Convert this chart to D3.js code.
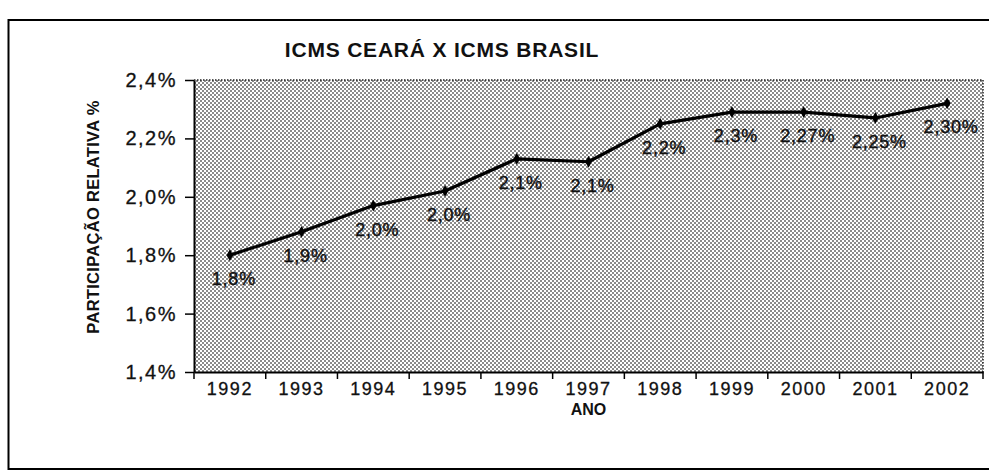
<!DOCTYPE html>
<html>
<head>
<meta charset="utf-8">
<script src="https://cdn.jsdelivr.net/npm/d3@7"></script>
<style>
  html, body { margin: 0; padding: 0; background: #fff; overflow: hidden; }
  svg { display: block; overflow: hidden; }
  text { font-family: "Liberation Sans", Arial, sans-serif; fill: #111; }
</style>
</head>
<body>
<svg id="chart" width="989" height="472"></svg>
<script>
const title = "ICMS CEARÁ X ICMS BRASIL";
const yTitle = "PARTICIPAÇÃO RELATIVA %";
const xTitle = "ANO";
const years = ["1992","1993","1994","1995","1996","1997","1998","1999","2000","2001","2002"];
const values = [1.80, 1.88, 1.97, 2.02, 2.13, 2.12, 2.25, 2.29, 2.29, 2.27, 2.32];
const valueLabels = ["1,8%","1,9%","2,0%","2,0%","2,1%","2,1%","2,2%","2,3%","2,27%","2,25%","2,30%"];
const yTicks = [1.4, 1.6, 1.8, 2.0, 2.2, 2.4];

const svg = d3.select("#chart");
const plot = { left: 194, right: 983, top: 80, bottom: 372 };

// outer frame (left, top, bottom edges; right edge lies outside the picture)
svg.append("path")
  .attr("d", "M989,20H8.5V469H989")
  .attr("fill", "none").attr("stroke", "#000").attr("stroke-width", 2);

// halftone pattern
const defs = svg.append("defs");
const pat = defs.append("pattern")
  .attr("id", "dots").attr("patternUnits", "userSpaceOnUse")
  .attr("width", 4).attr("height", 4);
pat.append("rect").attr("width", 4).attr("height", 4).attr("fill", "#fff");
pat.append("rect").attr("x", 0).attr("y", 0).attr("width", 2).attr("height", 2).attr("fill", "#8a8a8a");
pat.append("rect").attr("x", 2).attr("y", 2).attr("width", 2).attr("height", 2).attr("fill", "#8a8a8a");

const x = d3.scaleBand().domain(years).range([plot.left, plot.right]).padding(0);
const y = d3.scaleLinear().domain([1.4, 2.4]).range([plot.bottom, plot.top]);

// plot area
svg.append("rect")
  .attr("x", plot.left).attr("y", plot.top)
  .attr("width", plot.right - plot.left).attr("height", plot.bottom - plot.top)
  .attr("fill", "url(#dots)");
// dotted border top & right
svg.append("path")
  .attr("d", `M${plot.left},${plot.top}H${plot.right}V${plot.bottom}`)
  .attr("fill", "none").attr("stroke", "#222").attr("stroke-width", 1.5)
  .attr("stroke-dasharray", "1.5,1.5");

// title
svg.append("text")
  .attr("x", 442).attr("y", 57)
  .attr("text-anchor", "middle")
  .style("font-size", "21px").style("font-weight", "bold").style("letter-spacing", "0.8px")
  .text(title);

// y axis
const yAxis = d3.axisLeft(y).tickValues(yTicks)
  .tickFormat(d => d.toFixed(1).replace(".", ",") + "%")
  .tickSize(9).tickSizeOuter(0);
const gy = svg.append("g").attr("transform", `translate(${plot.left},0)`).call(yAxis);
gy.select(".domain").attr("stroke", "#000").attr("stroke-width", 2);
gy.selectAll(".tick line").attr("stroke", "#000").attr("stroke-width", 1.5);
gy.selectAll(".tick text")
  .attr("x", -17)
  .attr("stroke", "#111").attr("stroke-width", 0.3)
  .style("font-size", "20px").style("letter-spacing", "1.5px")
  .style("font-family", "'Liberation Sans', Arial, sans-serif").attr("fill", "#111");

// x axis baseline + ticks at band boundaries
const xAxis = d3.axisBottom(x).tickSize(0).tickSizeOuter(0);
const gx = svg.append("g").attr("transform", `translate(0,${plot.bottom})`).call(xAxis);
gx.select(".domain").attr("stroke", "#000").attr("stroke-width", 2);
gx.selectAll(".tick text")
  .attr("y", 10)
  .attr("stroke", "#111").attr("stroke-width", 0.3)
  .style("font-size", "18px").style("letter-spacing", "1.5px")
  .style("font-family", "'Liberation Sans', Arial, sans-serif").attr("fill", "#111");
const bounds = years.map(d => x(d)).concat([x(years[years.length - 1]) + x.bandwidth()]);
svg.append("g").selectAll("line").data(bounds).join("line")
  .attr("x1", d => d).attr("x2", d => d)
  .attr("y1", plot.bottom).attr("y2", plot.bottom + 7)
  .attr("stroke", "#000").attr("stroke-width", 1.5);

// axis titles
svg.append("text")
  .attr("transform", `translate(99,217) rotate(-90)`)
  .attr("text-anchor", "middle")
  .style("font-size", "16.5px").style("font-weight", "bold").style("letter-spacing", "0.3px")
  .text(yTitle);
svg.append("text")
  .attr("x", (plot.left + plot.right) / 2).attr("y", 415)
  .attr("text-anchor", "middle")
  .style("font-size", "16px").style("font-weight", "bold")
  .text(xTitle);

// line
const data = years.map((yr, i) => ({ yr, v: values[i], lab: valueLabels[i] }));
const cx = d => x(d.yr) + x.bandwidth() / 2;
svg.append("path")
  .datum(data)
  .attr("d", d3.line().x(cx).y(d => y(d.v)))
  .attr("fill", "none").attr("stroke", "#000").attr("stroke-width", 3.2)
  .attr("stroke-linejoin", "round");

// markers
svg.append("g").selectAll("path").data(data).join("path")
  .attr("transform", d => `translate(${cx(d)},${y(d.v)})`)
  .attr("d", d3.symbol(d3.symbolDiamond, 40))
  .attr("fill", "#000");

// value labels
svg.append("g").selectAll("text").data(data).join("text")
  .attr("x", d => cx(d) + 4).attr("y", d => y(d.v) + 30)
  .attr("text-anchor", "middle")
  .attr("stroke", "#111").attr("stroke-width", 0.4)
  .style("font-size", "18px").style("letter-spacing", "0.8px")
  .text(d => d.lab);
</script>
</body>
</html>
